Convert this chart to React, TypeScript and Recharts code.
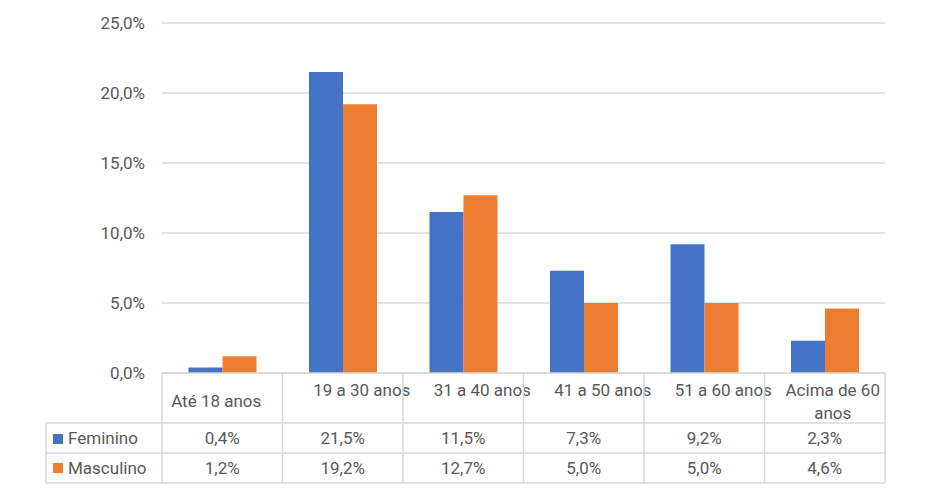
import React from 'react';
import { BarChart, Bar, XAxis, YAxis, CartesianGrid, Customized } from 'recharts';

const categories = ['Até 18 anos', '19 a 30 anos', '31 a 40 anos', '41 a 50 anos', '51 a 60 anos', 'Acima de 60 anos'];
const feminino = [0.4, 21.5, 11.5, 7.3, 9.2, 2.3];
const masculino = [1.2, 19.2, 12.7, 5.0, 5.0, 4.6];
const yTicks = [0, 5, 10, 15, 20, 25];

const data = categories.map((name, i) => ({ name, feminino: feminino[i], masculino: masculino[i] }));

const BLUE = '#4472C4';
const ORANGE = '#ED7D31';
const TEXT = '#595959';
const LINE = '#d9d9d9';
const FONT = 'Roboto, "Liberation Sans", sans-serif';
const FS = 17;

// table geometry (matches the plot area 162..885 and baseline at 373)
const PLOT_LEFT = 162;
const PLOT_RIGHT = 885;
const BAND = (PLOT_RIGHT - PLOT_LEFT) / categories.length;
const TABLE_TOP = 373;
const ROW1 = 423;
const ROW2 = 453;
const TABLE_BOTTOM = 483;
const LEGEND_LEFT = 46;

const fmt = (v: number) => v.toFixed(1).replace('.', ',') + '%';

const ColumnTick = (props: any) => {
  const { x, payload } = props;
  const i = payload.index;
  const label: string = payload.value;
  const left = x - BAND / 2;
  const right = x + BAND / 2;

  let header: React.ReactNode;
  if (label.length > 12) {
    const cut = label.lastIndexOf(' ');
    header = (
      <text x={x + 8} y={396} textAnchor="middle" fill={TEXT} fontSize={FS} fontFamily={FONT}>
        <tspan x={x + 8}>{label.slice(0, cut)}</tspan>
        <tspan x={x + 8} dy={23}>{label.slice(cut + 1)}</tspan>
      </text>
    );
  } else if (label.length > 11) {
    header = (
      <text x={x + 19} y={396} textAnchor="middle" fill={TEXT} fontSize={FS} fontFamily={FONT}>{label}</text>
    );
  } else {
    header = (
      <text x={x - 6} y={407} textAnchor="middle" fill={TEXT} fontSize={FS} fontFamily={FONT}>{label}</text>
    );
  }

  return (
    <g>
      <line x1={left} y1={TABLE_TOP} x2={left} y2={TABLE_BOTTOM} stroke={LINE} strokeWidth={1.5} />
      {i === categories.length - 1 && (
        <line x1={right} y1={TABLE_TOP} x2={right} y2={TABLE_BOTTOM} stroke={LINE} strokeWidth={1.5} />
      )}
      <line x1={left} y1={ROW1} x2={right} y2={ROW1} stroke={LINE} strokeWidth={1.5} />
      <line x1={left} y1={ROW2} x2={right} y2={ROW2} stroke={LINE} strokeWidth={1.5} />
      <line x1={left} y1={TABLE_BOTTOM} x2={right} y2={TABLE_BOTTOM} stroke={LINE} strokeWidth={1.5} />
      {header}
      <text x={x} y={444} textAnchor="middle" fill={TEXT} fontSize={FS} fontFamily={FONT}>{fmt(feminino[i])}</text>
      <text x={x} y={474} textAnchor="middle" fill={TEXT} fontSize={FS} fontFamily={FONT}>{fmt(masculino[i])}</text>
    </g>
  );
};

const LegendColumn = () => (
  <g>
    <line x1={LEGEND_LEFT} y1={ROW1} x2={LEGEND_LEFT} y2={TABLE_BOTTOM} stroke={LINE} strokeWidth={1.5} />
    <line x1={LEGEND_LEFT} y1={ROW1} x2={PLOT_LEFT} y2={ROW1} stroke={LINE} strokeWidth={1.5} />
    <line x1={LEGEND_LEFT} y1={ROW2} x2={PLOT_LEFT} y2={ROW2} stroke={LINE} strokeWidth={1.5} />
    <line x1={LEGEND_LEFT} y1={TABLE_BOTTOM} x2={PLOT_LEFT} y2={TABLE_BOTTOM} stroke={LINE} strokeWidth={1.5} />
    <rect x={53} y={434} width={10} height={10} fill={BLUE} />
    <text x={68} y={444} fill={TEXT} fontSize={FS} fontFamily={FONT}>Feminino</text>
    <rect x={53} y={463} width={10} height={10} fill={ORANGE} />
    <text x={68} y={474} fill={TEXT} fontSize={FS} fontFamily={FONT}>Masculino</text>
  </g>
);

export default function App() {
  return (
    <div style={{ margin: -8, width: 929, height: 499, background: '#fff' }}>
      <BarChart
        width={929}
        height={499}
        data={data}
        margin={{ top: 23, right: 44, left: 0, bottom: 0 }}
        barCategoryGap="22%"
        barGap={0}
      >
        <CartesianGrid vertical={false} stroke={LINE} strokeWidth={1.5} />
        <YAxis
          width={162}
          domain={[0, 25]}
          ticks={yTicks}
          axisLine={false}
          tickLine={false}
          tickMargin={11}
          tickFormatter={fmt}
          tick={{ fill: TEXT, fontSize: FS, fontFamily: FONT }}
        />
        <XAxis
          dataKey="name"
          height={126}
          axisLine={{ stroke: LINE, strokeWidth: 1.5 }}
          tickLine={false}
          interval={0}
          tick={<ColumnTick />}
        />
        <Bar dataKey="feminino" fill={BLUE} isAnimationActive={false} />
        <Bar dataKey="masculino" fill={ORANGE} isAnimationActive={false} />
        <Customized component={LegendColumn} />
      </BarChart>
    </div>
  );
}
